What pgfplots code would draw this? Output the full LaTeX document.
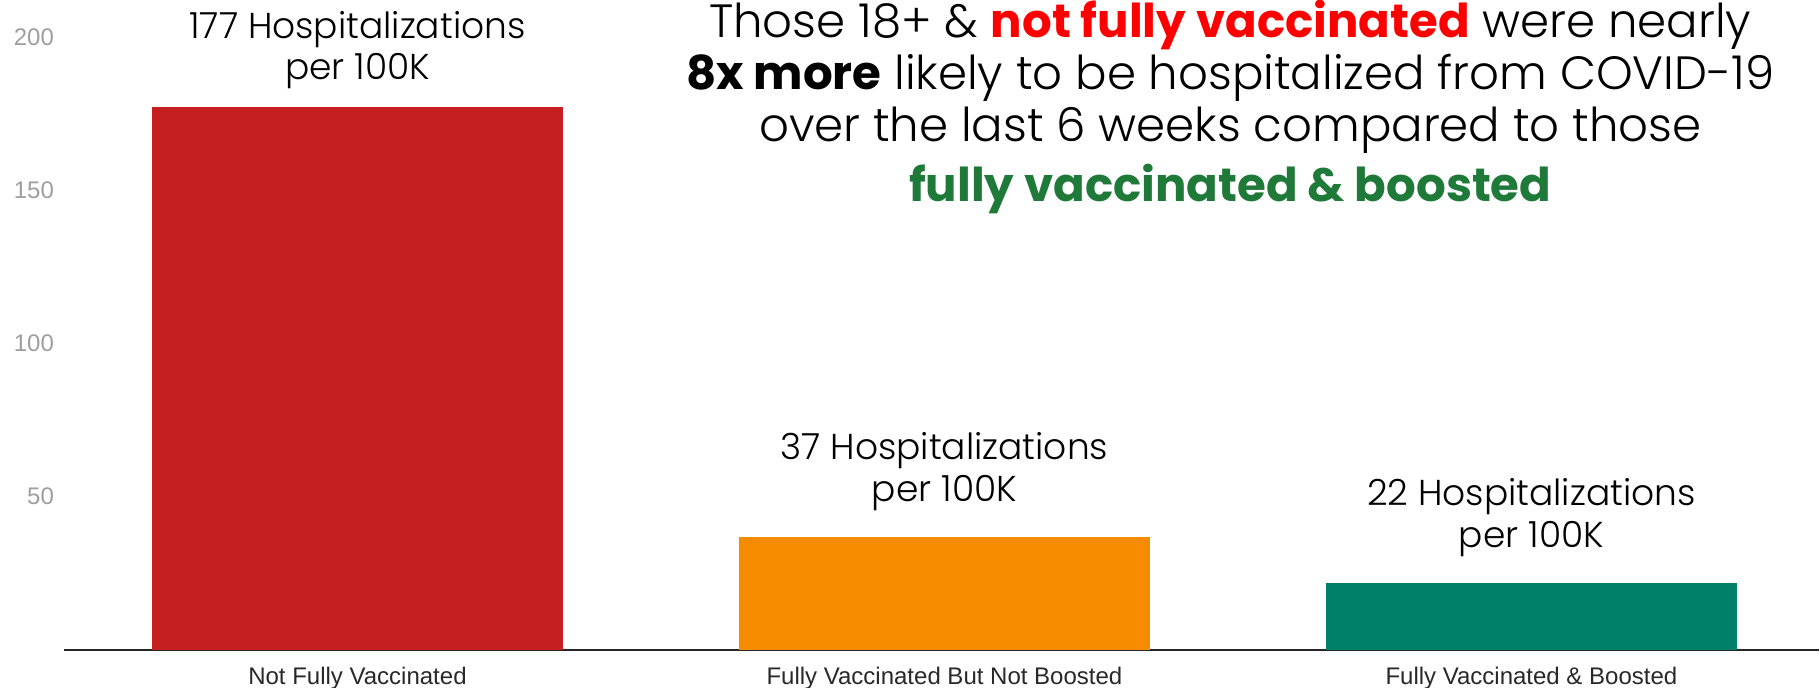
\documentclass[border=0pt]{standalone}
\usepackage{pgfplots}
\pgfplotsset{compat=1.18}
\usepackage{fontspec}
\setmainfont{Liberation Sans}
\newfontfamily\annfont{Poppins}
\newfontfamily\annfontlight{Poppins Light}
\definecolor{barred}{RGB}{198,31,31}
\definecolor{barorange}{RGB}{247,139,0}
\definecolor{bargreen}{RGB}{0,128,104}
\definecolor{txtred}{RGB}{255,0,0}
\definecolor{txtgreen}{RGB}{31,122,58}
\definecolor{ticklabgray}{RGB}{158,158,158}
\definecolor{xlabgray}{RGB}{40,40,40}
\begin{document}
\begin{tikzpicture}
\begin{axis}[
  x=440.25pt, y=2.2995pt,
  xmin=-0.5, xmax=2.49, ymin=0, ymax=212,
  clip=false,
  axis x line*=bottom, axis y line*=left,
  y axis line style={draw=none},
  x axis line style={line width=1.5pt, color=black!85},
  major tick length=0pt,
  xtick={0,1,2},
  xticklabels={Not Fully Vaccinated, Fully Vaccinated But Not Boosted, Fully Vaccinated \& Boosted},
  xticklabel style={font=\fontsize{18}{20}\selectfont, text=xlabgray, inner sep=0pt, yshift=-13pt, text depth=0pt},
  ytick={50,100,150,200},
  yticklabel style={font=\fontsize{18}{20}\selectfont, text=ticklabgray, xshift=-4pt},
  /pgf/number format/assume math mode=true,
  ybar, bar width=0.7,
  bar shift=0pt,
  nodes near coords={\pgfmathprintnumber{\pgfplotspointmeta} Hospitalizations\\per 100K},
  every node near coord/.append style={align=center, text=black,
     font=\annfontlight\fontsize{27}{31}\selectfont, anchor=south},
]
\addplot[fill=barred, draw=none, nodes near coords style={yshift=10pt}] coordinates {(0,177)};
\addplot[fill=barorange, draw=none, nodes near coords style={yshift=16pt}] coordinates {(1,37)};
\addplot[fill=bargreen, draw=none, nodes near coords style={yshift=16pt}] coordinates {(2,22)};
\path (axis cs:-0.609,-12.39) rectangle (axis cs:2.4906,212);
\node[anchor=north, align=center, inner sep=0pt, font=\annfontlight\fontsize{35}{39}\selectfont]
  at (axis cs:1.487,212) {Those 18+ \& {\annfont\bfseries\color{txtred}not fully vaccinated} were nearly\\
  {\annfont\bfseries 8x more} likely to be hospitalized from COVID-19\\
  over the last 6 weeks compared to those\\[6pt]
  {\annfont\bfseries\color{txtgreen}fully vaccinated \& boosted}};
\end{axis}
\end{tikzpicture}
\end{document}
